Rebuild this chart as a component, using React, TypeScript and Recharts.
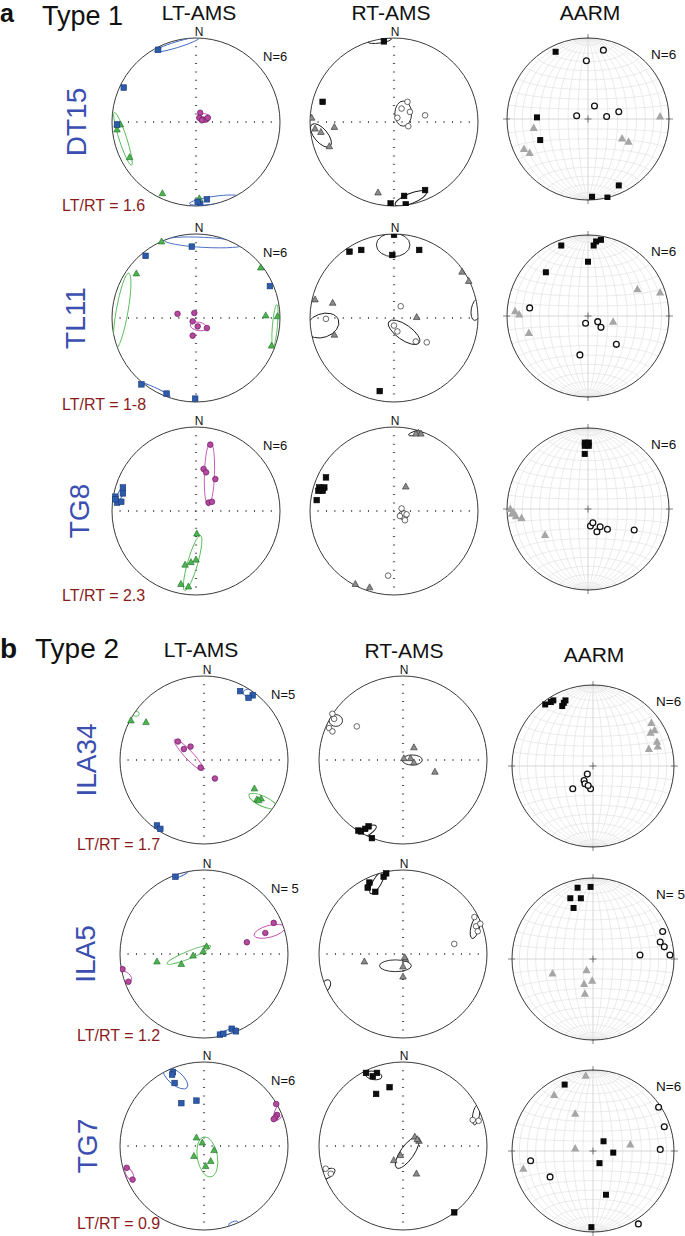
import React from 'react';
import { ScatterChart, Scatter, XAxis, YAxis, ReferenceLine, ReferenceDot, Customized } from 'recharts';

type Pair = [number, number];
type Ell = [number, number, number, number, number]; // x, y, rx, ry, angle (deg)

// ---- data: projected axes, unit = net radius (x east, y north) ----
// k1 = max axis (squares), k2 = int (triangles), k3 = min (circles), e* = confidence ellipses
const dt15LtK1: Pair[] = [[-0.45, 0.86], [-0.86, 0.41], [-0.94, -0.03], [0.05, -0.98], [0.13, -0.92], [0.02, -0.95]];
const dt15LtK2: Pair[] = [[-0.94, -0.03], [-0.9, -0.03], [-0.94, -0.09], [-0.79, -0.42], [-0.4, -0.85], [0.04, -0.91]];
const dt15LtK3: Pair[] = [[0.05, 0.11], [0.04, 0.05], [0.08, 0.03], [0.12, 0.03], [0.14, 0.05], [0.07, 0.02]];
const dt15LtE1: Ell[] = [[-0.23, 0.92, 0.28, 0.035, 17], [0.22, -0.93, 0.3, 0.045, 8]];
const dt15LtE2: Ell[] = [[-0.87, -0.2, 0.33, 0.045, -72]];
const dt15LtE3: Ell[] = [[0.09, 0.05, 0.08, 0.05, 0]];

const dt15RtK1: Pair[] = [[-0.12, 0.96], [-0.85, 0.24], [0.37, -0.81], [0.12, -0.88], [-0.04, -0.97], [0.14, -0.98]];
const dt15RtK2: Pair[] = [[-0.98, 0.05], [-0.94, -0.08], [-0.87, -0.12], [-0.71, -0.06], [-0.77, -0.29], [-0.19, -0.84]];
const dt15RtK3: Pair[] = [[0.16, 0.24], [0.19, 0.12], [0.04, 0.05], [0.37, 0.08], [0.17, -0.05], [0.09, 0.16]];
const dt15RtE1: Ell[] = [[-0.17, 0.97, 0.14, 0.03, 8], [0.2, -0.91, 0.2, 0.06, 22]];
const dt15RtE2: Ell[] = [[-0.87, -0.16, 0.17, 0.08, -50]];
const dt15RtE3: Ell[] = [[0.11, 0.1, 0.15, 0.1, 90]];

const dt15ArK1: Pair[] = [[-0.4, 0.83], [-0.63, 0.02], [-0.59, -0.26], [0.38, -0.82], [0.05, -0.96], [0.24, -0.97]];
const dt15ArK2: Pair[] = [[0.89, 0.03], [-0.67, -0.11], [-0.79, -0.37], [-0.72, -0.42], [0.42, -0.24], [0.5, -0.28]];
const dt15ArK3: Pair[] = [[0.19, 0.85], [-0.02, 0.72], [0.08, 0.16], [-0.14, 0.04], [0.23, 0.03], [0.38, 0.09]];

const tl11LtK1: Pair[] = [[-0.05, 0.85], [-0.6, 0.74], [0.88, 0.38], [-0.65, -0.79], [-0.35, -0.9], [-0.01, -0.96]];
const tl11LtK2: Pair[] = [[-0.41, 0.91], [-0.71, 0.53], [0.77, 0.6], [0.83, 0.03], [0.97, 0.02], [0.9, -0.33]];
const tl11LtK3: Pair[] = [[-0.22, 0.05], [-0.02, 0.06], [-0.04, -0.04], [0.02, -0.1], [0.13, -0.12], [-0.04, -0.21]];
const tl11LtE1: Ell[] = [[0.1, 0.9, 0.48, 0.06, -3], [-0.49, -0.86, 0.2, 0.03, -25]];
const tl11LtE2: Ell[] = [[-0.88, 0.08, 0.46, 0.07, 80], [0.94, -0.09, 0.25, 0.03, 85]];
const tl11LtE3: Ell[] = [[0.03, -0.1, 0.1, 0.05, -10]];

const tl11RtK1: Pair[] = [[0, 0.99], [-0.53, 0.79], [-0.39, 0.81], [-0.02, 0.75], [0.3, 0.81], [-0.17, -0.87]];
const tl11RtK2: Pair[] = [[0.81, 0.55], [0.89, 0.44], [-0.94, 0.22], [-0.73, 0.18], [0.27, 0.01], [-0.71, -0.2]];
const tl11RtK3: Pair[] = [[-0.81, -0.01], [0.08, 0.14], [0, -0.09], [0.04, -0.16], [0.26, -0.28], [0.39, -0.29]];
const tl11RtE1: Ell[] = [[-0.01, 0.87, 0.2, 0.14, 0]];
const tl11RtE2: Ell[] = [[0.98, 0.1, 0.13, 0.06, 80]];
const tl11RtE3: Ell[] = [[-0.85, -0.09, 0.2, 0.14, 20], [0.12, -0.17, 0.22, 0.09, -35]];

const tl11ArK1: Pair[] = [[0.16, 0.94], [0.1, 0.92], [0.07, 0.87], [-0.33, 0.87], [0, 0.67], [-0.52, 0.54]];
const tl11ArK2: Pair[] = [[0.61, 0.33], [0.89, 0.29], [-0.9, 0.06], [-0.85, 0.02], [-0.73, -0.21], [0.31, -0.07]];
const tl11ArK3: Pair[] = [[-0.72, 0.1], [-0.03, -0.09], [0.12, -0.07], [0.16, -0.14], [0.35, -0.35], [-0.1, -0.48]];

const tg8LtK1: Pair[] = [[-0.87, 0.28], [-0.87, 0.21], [-0.96, 0.17], [-0.94, 0.1], [-0.89, 0.11], [-0.96, 0.14]];
const tg8LtK2: Pair[] = [[0.01, -0.27], [0, -0.58], [-0.06, -0.61], [-0.13, -0.64], [-0.18, -0.87], [-0.09, -0.9]];
const tg8LtK3: Pair[] = [[0.17, 0.79], [0.09, 0.5], [0.12, 0.46], [0.23, 0.38], [0.15, 0.1], [0.19, 0.11]];
const tg8LtE1: Ell[] = [[-0.9, 0.2, 0.1, 0.03, 60]];
const tg8LtE2: Ell[] = [[-0.04, -0.62, 0.34, 0.06, 74]];
const tg8LtE3: Ell[] = [[0.16, 0.44, 0.38, 0.06, 88]];

const tg8RtK1: Pair[] = [[-0.81, 0.4], [-0.89, 0.28], [-0.83, 0.28], [-0.85, 0.24], [-0.92, 0.13], [-0.9, 0.24]];
const tg8RtK2: Pair[] = [[0.14, 0.29], [0.29, 0.93], [0.32, 0.92], [0.26, 0.92], [-0.46, -0.87], [-0.29, -0.91]];
const tg8RtK3: Pair[] = [[0.09, 0.03], [0.12, -0.03], [0.07, -0.06], [0.15, -0.04], [0.13, -0.11], [-0.07, -0.77]];
const tg8RtE1: Ell[] = [[-0.86, 0.27, 0.06, 0.04, 0]];
const tg8RtE2: Ell[] = [[0.27, 0.93, 0.1, 0.025, 15]];
const tg8RtE3: Ell[] = [[0.11, -0.05, 0.06, 0.05, 0]];

const tg8ArK1: Pair[] = [[-0.04, 0.82], [0.01, 0.82], [-0.04, 0.78], [0.01, 0.78], [-0.01, 0.8], [-0.04, 0.68]];
const tg8ArK2: Pair[] = [[-0.96, 0], [-0.92, -0.04], [-0.89, -0.09], [-0.82, -0.11], [-0.94, -0.06], [-0.53, -0.32]];
const tg8ArK3: Pair[] = [[0.03, -0.21], [0.06, -0.17], [0.11, -0.28], [0.15, -0.22], [0.24, -0.25], [0.57, -0.26]];

const ila34LtK1: Pair[] = [[0.43, 0.82], [0.58, 0.77], [0.53, 0.74], [-0.56, -0.78], [-0.52, -0.82]];
const ila34LtK2: Pair[] = [[-0.87, 0.47], [-0.69, 0.45], [0.6, -0.34], [0.63, -0.47], [0.68, -0.46], [0.65, -0.48]];
const ila34LtK3: Pair[] = [[-0.31, 0.22], [-0.16, 0.16], [-0.24, 0.13], [-0.04, -0.09], [0.13, -0.22]];
const ila34LtE1: Ell[] = [[0.52, 0.8, 0.05, 0.04, 0]];
const ila34LtE2: Ell[] = [[-0.81, 0.55, 0.04, 0.03, 0], [0.7, -0.49, 0.18, 0.06, -25]];
const ila34LtE3: Ell[] = [[-0.18, 0.06, 0.25, 0.05, -47]];

const ila34RtK1: Pair[] = [[-0.53, -0.84], [-0.5, -0.85], [-0.45, -0.82], [-0.41, -0.79], [-0.37, -0.93]];
const ila34RtK2: Pair[] = [[0.13, 0.15], [0.01, 0.02], [0.09, 0.02], [0.13, -0.03], [0.38, -0.14]];
const ila34RtK3: Pair[] = [[-0.84, 0.55], [-0.82, 0.49], [-0.88, 0.38], [-0.84, 0.34], [-0.55, 0.4]];
const ila34RtE1: Ell[] = [[-0.45, -0.86, 0.15, 0.05, 30]];
const ila34RtE2: Ell[] = [[0.11, 0, 0.12, 0.06, 0]];
const ila34RtE3: Ell[] = [[-0.8, 0.47, 0.08, 0.07, 0]];

const ila34ArK1: Pair[] = [[-0.59, 0.76], [-0.52, 0.79], [-0.49, 0.81], [-0.34, 0.81], [-0.36, 0.78], [-0.38, 0.74]];
const ila34ArK2: Pair[] = [[0.72, 0.53], [0.71, 0.41], [0.76, 0.44], [0.79, 0.3], [0.69, 0.21], [0.8, 0.24]];
const ila34ArK3: Pair[] = [[-0.07, -0.1], [-0.11, -0.18], [-0.1, -0.22], [-0.25, -0.28], [-0.03, -0.28], [-0.06, -0.24]];

const ila5LtK1: Pair[] = [[-0.34, 0.92], [0.19, -0.96], [0.33, -0.89], [0.38, -0.92], [0.23, -0.95]];
const ila5LtK2: Pair[] = [[-0.56, -0.09], [-0.27, -0.12], [-0.13, -0.02], [-0.01, 0.03], [0.03, 0.09]];
const ila5LtK3: Pair[] = [[0.83, 0.37], [0.73, 0.25], [0.51, 0.14], [-0.97, -0.18], [-0.9, -0.33]];
const ila5LtE1: Ell[] = [[-0.27, 0.95, 0.09, 0.02, 25], [0.28, -0.93, 0.13, 0.025, 20]];
const ila5LtE2: Ell[] = [[-0.18, -0.01, 0.28, 0.045, 22]];
const ila5LtE3: Ell[] = [[0.78, 0.27, 0.19, 0.07, 15], [-0.93, -0.27, 0.08, 0.05, -40]];

const ila5RtK1: Pair[] = [[-0.2, 0.96], [-0.23, 0.92], [-0.4, 0.85], [-0.42, 0.79], [-0.33, 0.74]];
const ila5RtK2: Pair[] = [[-0.46, -0.09], [0.03, -0.06], [0, -0.15], [0, -0.27], [0.02, -0.04]];
const ila5RtK3: Pair[] = [[0.61, 0.12], [0.85, 0.44], [0.87, 0.33], [0.92, 0.36], [0.89, 0.27]];
const ila5RtE1: Ell[] = [[-0.31, 0.85, 0.15, 0.05, 60]];
const ila5RtE2: Ell[] = [[-0.09, -0.14, 0.19, 0.07, 0]];
const ila5RtE3: Ell[] = [[0.86, 0.32, 0.14, 0.05, 75], [-0.92, -0.38, 0.08, 0.05, 60]];

const ila5ArK1: Pair[] = [[-0.19, 0.88], [-0.03, 0.89], [-0.28, 0.75], [-0.15, 0.75], [-0.24, 0.63]];
const ila5ArK2: Pair[] = [[-0.5, -0.18], [-0.08, -0.14], [-0.01, -0.27], [-0.11, -0.31], [-0.1, -0.43]];
const ila5ArK3: Pair[] = [[0.86, 0.34], [0.83, 0.21], [0.88, 0.15], [0.95, 0.05], [0.58, 0.05]];

const tg7LtK1: Pair[] = [[-0.37, 0.88], [-0.38, 0.85], [-0.35, 0.75], [-0.27, 0.51], [-0.09, 0.54]];
const tg7LtK2: Pair[] = [[-0.09, 0.1], [0.12, -0.05], [-0.12, -0.12], [0.02, -0.24], [-0.02, 0.04], [0.08, -0.18]];
const tg7LtK3: Pair[] = [[0.86, 0.5], [0.87, 0.37], [0.85, 0.34], [0.83, 0.32], [-0.92, -0.26], [-0.85, -0.4]];
const tg7LtE1: Ell[] = [[-0.34, 0.81, 0.18, 0.08, -40], [0.35, -0.93, 0.06, 0.03, 20]];
const tg7LtE2: Ell[] = [[0.04, -0.13, 0.24, 0.12, 100]];
const tg7LtE3: Ell[] = [[0.89, 0.4, 0.1, 0.05, 70], [-0.89, -0.33, 0.08, 0.04, -60]];

const tg7RtK1: Pair[] = [[-0.44, 0.87], [-0.31, 0.87], [-0.36, 0.83], [-0.16, 0.7], [-0.32, 0.62], [0.61, -0.79]];
const tg7RtK2: Pair[] = [[0.14, 0.11], [0.19, 0.06], [-0.03, -0.11], [-0.11, -0.17], [0.16, -0.33], [0.17, 0.08]];
const tg7RtK3: Pair[] = [[0.83, 0.31], [0.9, 0.3], [-0.92, -0.27], [-0.86, -0.33]];
const tg7RtE1: Ell[] = [[-0.35, 0.84, 0.1, 0.05, -10]];
const tg7RtE2: Ell[] = [[0.05, -0.08, 0.22, 0.08, 55]];
const tg7RtE3: Ell[] = [[0.87, 0.37, 0.12, 0.04, 80], [-0.9, -0.33, 0.1, 0.05, 30]];

const tg7ArK1: Pair[] = [[-0.35, 0.82], [0.13, 0.12], [0.25, -0.02], [0.08, -0.15], [0.16, -0.54], [-0.02, -0.94]];
const tg7ArK2: Pair[] = [[-0.09, 0.93], [-0.48, 0.69], [-0.22, 0.46], [-0.22, 0.03], [0.46, 0.08], [-0.86, -0.22]];
const tg7ArK3: Pair[] = [[0.81, 0.54], [0.88, 0.3], [0.83, 0.02], [-0.77, -0.12], [-0.53, -0.32], [0.56, -0.9]];

// ---- labels ----
const sampleNames = ['DT15', 'TL11', 'TG8', 'ILA34', 'ILA5', 'TG7'];
const ratioLabels = ['LT/RT = 1.6', 'LT/RT = 1-8', 'LT/RT = 2.3', 'LT/RT = 1.7', 'LT/RT = 1.2', 'LT/RT = 0.9'];
const nLtLabels = ['N=6', 'N=6', 'N=6', 'N=5', 'N= 5', 'N=6'];
const nArLabels = ['N=6', 'N=6', 'N=6', 'N=6', 'N= 5', 'N=6'];
const columnTitles = ['LT-AMS', 'RT-AMS', 'AARM'];

// ---- layout ----
const FONT = '"Liberation Sans", Arial, Helvetica, sans-serif';
const PAD = 8;
const R_AMS = 84;
const R_AR = 81;
const COL_X = [
  [196, 394, 588],
  [204, 403, 593],
];
const ROW_Y = [122, 318, 511, 760, 954, 1146];
const AR_Y = [119, 316, 509, 766, 959, 1151];
const LABEL_X = [76, 75, 79, 86, 85, 87];
const RATIO_POS: Pair[] = [[62, 211], [62, 410], [62, 601], [77, 850], [77, 1041], [77, 1229]];

const toPts = (a: Pair[]) => a.map(([x, y]) => ({ x, y }));
const toElls = (a: Ell[]) => a.map(([x, y, rx, ry, angle]) => ({ x, y, rx, ry, angle }));

type Mode = 'lt' | 'rt' | 'ar';

const MARK = {
  lt: { sq: ['#2d5aa9', '#173a7a'], tri: ['#4db34f', '#1d6d25'], dot: ['#b5489f', '#6b1d5d'], ell: ['#3f67bf', '#55bb55', '#c24fb2'] },
  rt: { sq: ['#0d0d0d', '#000'], tri: ['#8c8c8c', '#2a2a2a'], dot: ['#fff', '#2a2a2a'], ell: ['#1a1a1a', '#1a1a1a', '#1a1a1a'] },
  ar: { sq: ['#0a0a0a', 'none'], tri: ['#a6a6a6', 'none'], dot: ['#fff', '#111'], ell: ['#111', '#111', '#111'] },
};

const squareShape = (fill: string, stroke: string, s: number) => (p: any) => (
  <rect x={p.cx - s / 2} y={p.cy - s / 2} width={s} height={s} fill={fill} stroke={stroke} strokeWidth={0.6} />
);
const triShape = (fill: string, stroke: string, h: number) => (p: any) => (
  <polygon
    points={`${p.cx},${p.cy - h * 0.6} ${p.cx + h * 0.55},${p.cy + h * 0.4} ${p.cx - h * 0.55},${p.cy + h * 0.4}`}
    fill={fill}
    stroke={stroke}
    strokeWidth={0.6}
  />
);
const dotShape = (fill: string, stroke: string, r: number, sw: number) => (p: any) => (
  <circle cx={p.cx} cy={p.cy} r={r} fill={fill} stroke={stroke} strokeWidth={sw} />
);
const ellShape = (color: string, r: number, clip: string) => (p: any) => {
  const d = p.payload;
  return (
    <g clipPath={`url(#${clip})`}>
      <ellipse
        cx={p.cx}
        cy={p.cy}
        rx={d.rx * r}
        ry={d.ry * r}
        transform={`rotate(${-d.angle} ${p.cx} ${p.cy})`}
        fill="none"
        stroke={color}
        strokeWidth={0.9}
      />
    </g>
  );
};

// equal-area (Schmidt) graticule, clip path, centre/edge ticks
function Frame({ r, c, mode, id }: { r: number; c: number; mode: Mode; id: string }) {
  const paths: string[] = [];
  if (mode === 'ar') {
    const rad = Math.PI / 180;
    const proj = (lon: number, lat: number) => {
      const k = Math.sqrt(1 + Math.cos(lat * rad) * Math.cos(lon * rad));
      const x = (Math.cos(lat * rad) * Math.sin(lon * rad)) / k;
      const y = Math.sin(lat * rad) / k;
      return `${(c + x * r).toFixed(2)},${(c - y * r).toFixed(2)}`;
    };
    for (let lon = -80; lon <= 80; lon += 10) {
      const pts: string[] = [];
      for (let lat = -90; lat <= 90; lat += 2) pts.push(proj(lon, lat));
      paths.push('M' + pts.join('L'));
    }
    for (let lat = -80; lat <= 80; lat += 10) {
      const pts: string[] = [];
      for (let lon = -90; lon <= 90; lon += 2) pts.push(proj(lon, lat));
      paths.push('M' + pts.join('L'));
    }
  }
  return (
    <g>
      <defs>
        <clipPath id={id}>
          <circle cx={c} cy={c} r={r} />
        </clipPath>
      </defs>
      {mode === 'ar' && (
        <g>
          {paths.map((d, i) => (
            <path key={i} d={d} fill="none" stroke="#dcdcdc" strokeWidth={0.6} />
          ))}
          <line x1={c} y1={c - r} x2={c} y2={c + r} stroke="#d4d4d4" strokeWidth={0.6} />
          <line x1={c - r} y1={c} x2={c + r} y2={c} stroke="#d4d4d4" strokeWidth={0.6} />
          <line x1={c - 3.5} y1={c} x2={c + 3.5} y2={c} stroke="#555" strokeWidth={0.8} />
          <line x1={c} y1={c - 3.5} x2={c} y2={c + 3.5} stroke="#555" strokeWidth={0.8} />
          <line x1={c} y1={c - r - 4} x2={c} y2={c - r + 1} stroke="#666" strokeWidth={0.8} />
          <line x1={c} y1={c + r - 1} x2={c} y2={c + r + 4} stroke="#666" strokeWidth={0.8} />
          <line x1={c - r - 4} y1={c} x2={c - r + 3} y2={c} stroke="#666" strokeWidth={0.8} />
          <line x1={c + r - 3} y1={c} x2={c + r + 4} y2={c} stroke="#666" strokeWidth={0.8} />
        </g>
      )}
    </g>
  );
}

interface NetProps {
  id: string;
  mode: Mode;
  cx: number;
  cy: number;
  k1: Pair[];
  k2: Pair[];
  k3: Pair[];
  e1?: Ell[];
  e2?: Ell[];
  e3?: Ell[];
}

const Net: React.FC<NetProps> = ({ id, mode, cx, cy, k1, k2, k3, e1 = [], e2 = [], e3 = [] }) => {
  const r = mode === 'ar' ? R_AR : R_AMS;
  const size = 2 * r + 2 * PAD;
  const m = MARK[mode];
  const big = mode === 'ar';
  const tick = 0.1 * r;
  return (
    <div style={{ position: 'absolute', left: cx - r - PAD, top: cy - r - PAD }}>
      <ScatterChart width={size} height={size} margin={{ top: PAD, right: PAD, bottom: PAD, left: PAD }}>
        <XAxis type="number" dataKey="x" domain={[-1, 1]} hide allowDataOverflow />
        <YAxis type="number" dataKey="y" domain={[-1, 1]} hide allowDataOverflow />
        <Customized component={<Frame r={r} c={PAD + r} mode={mode} id={id} />} />
        {mode !== 'ar' && (
          <ReferenceLine
            segment={[{ x: 0, y: -0.91 }, { x: 0, y: 0.91 }]}
            stroke="#555"
            strokeWidth={2.2}
            strokeDasharray={`1 ${tick - 1}`}
          />
        )}
        {mode !== 'ar' && (
          <ReferenceLine
            segment={[{ x: -0.91, y: 0 }, { x: 0.91, y: 0 }]}
            stroke="#555"
            strokeWidth={2.2}
            strokeDasharray={`1 ${tick - 1}`}
          />
        )}
        <ReferenceDot x={0} y={0} r={r} fill="none" stroke="#3a3a3a" strokeWidth={1} />
        <Scatter data={toElls(e1)} shape={ellShape(m.ell[0], r, id)} isAnimationActive={false} />
        <Scatter data={toElls(e2)} shape={ellShape(m.ell[1], r, id)} isAnimationActive={false} />
        <Scatter data={toElls(e3)} shape={ellShape(m.ell[2], r, id)} isAnimationActive={false} />
        <Scatter data={toPts(k3)} shape={dotShape(m.dot[0], m.dot[1], big ? 2.9 : 2.8, big ? 1.3 : 0.7)} isAnimationActive={false} />
        <Scatter data={toPts(k2)} shape={triShape(m.tri[0], m.tri[1], big ? 7.5 : 6)} isAnimationActive={false} />
        <Scatter data={toPts(k1)} shape={squareShape(m.sq[0], m.sq[1], big ? 6 : 5.6)} isAnimationActive={false} />
      </ScatterChart>
    </div>
  );
};

const NETS: NetProps[][] = [
  [
    { id: 'c0', mode: 'lt', cx: 0, cy: 0, k1: dt15LtK1, k2: dt15LtK2, k3: dt15LtK3, e1: dt15LtE1, e2: dt15LtE2, e3: dt15LtE3 },
    { id: 'c1', mode: 'rt', cx: 0, cy: 0, k1: dt15RtK1, k2: dt15RtK2, k3: dt15RtK3, e1: dt15RtE1, e2: dt15RtE2, e3: dt15RtE3 },
    { id: 'c2', mode: 'ar', cx: 0, cy: 0, k1: dt15ArK1, k2: dt15ArK2, k3: dt15ArK3 },
  ],
  [
    { id: 'c3', mode: 'lt', cx: 0, cy: 0, k1: tl11LtK1, k2: tl11LtK2, k3: tl11LtK3, e1: tl11LtE1, e2: tl11LtE2, e3: tl11LtE3 },
    { id: 'c4', mode: 'rt', cx: 0, cy: 0, k1: tl11RtK1, k2: tl11RtK2, k3: tl11RtK3, e1: tl11RtE1, e2: tl11RtE2, e3: tl11RtE3 },
    { id: 'c5', mode: 'ar', cx: 0, cy: 0, k1: tl11ArK1, k2: tl11ArK2, k3: tl11ArK3 },
  ],
  [
    { id: 'c6', mode: 'lt', cx: 0, cy: 0, k1: tg8LtK1, k2: tg8LtK2, k3: tg8LtK3, e1: tg8LtE1, e2: tg8LtE2, e3: tg8LtE3 },
    { id: 'c7', mode: 'rt', cx: 0, cy: 0, k1: tg8RtK1, k2: tg8RtK2, k3: tg8RtK3, e1: tg8RtE1, e2: tg8RtE2, e3: tg8RtE3 },
    { id: 'c8', mode: 'ar', cx: 0, cy: 0, k1: tg8ArK1, k2: tg8ArK2, k3: tg8ArK3 },
  ],
  [
    { id: 'c9', mode: 'lt', cx: 0, cy: 0, k1: ila34LtK1, k2: ila34LtK2, k3: ila34LtK3, e1: ila34LtE1, e2: ila34LtE2, e3: ila34LtE3 },
    { id: 'c10', mode: 'rt', cx: 0, cy: 0, k1: ila34RtK1, k2: ila34RtK2, k3: ila34RtK3, e1: ila34RtE1, e2: ila34RtE2, e3: ila34RtE3 },
    { id: 'c11', mode: 'ar', cx: 0, cy: 0, k1: ila34ArK1, k2: ila34ArK2, k3: ila34ArK3 },
  ],
  [
    { id: 'c12', mode: 'lt', cx: 0, cy: 0, k1: ila5LtK1, k2: ila5LtK2, k3: ila5LtK3, e1: ila5LtE1, e2: ila5LtE2, e3: ila5LtE3 },
    { id: 'c13', mode: 'rt', cx: 0, cy: 0, k1: ila5RtK1, k2: ila5RtK2, k3: ila5RtK3, e1: ila5RtE1, e2: ila5RtE2, e3: ila5RtE3 },
    { id: 'c14', mode: 'ar', cx: 0, cy: 0, k1: ila5ArK1, k2: ila5ArK2, k3: ila5ArK3 },
  ],
  [
    { id: 'c15', mode: 'lt', cx: 0, cy: 0, k1: tg7LtK1, k2: tg7LtK2, k3: tg7LtK3, e1: tg7LtE1, e2: tg7LtE2, e3: tg7LtE3 },
    { id: 'c16', mode: 'rt', cx: 0, cy: 0, k1: tg7RtK1, k2: tg7RtK2, k3: tg7RtK3, e1: tg7RtE1, e2: tg7RtE2, e3: tg7RtE3 },
    { id: 'c17', mode: 'ar', cx: 0, cy: 0, k1: tg7ArK1, k2: tg7ArK2, k3: tg7ArK3 },
  ],
];

export default function App() {
  return (
    <div style={{ position: 'absolute', left: 0, top: 0, width: 685, height: 1236, background: '#fff', fontFamily: FONT, overflow: 'hidden' }}>
      {NETS.map((row, ri) =>
        row.map((n, ci) => {
          const sec = ri < 3 ? 0 : 1;
          return <Net key={n.id} {...n} cx={COL_X[sec][ci]} cy={ci === 2 ? AR_Y[ri] : ROW_Y[ri]} />;
        })
      )}
      <svg width={685} height={1236} style={{ position: 'absolute', left: 0, top: 0, pointerEvents: 'none' }} fontFamily={FONT}>
        {/* section titles */}
        <text x={0} y={22} fontSize={25} fontWeight="bold" fill="#111">a</text>
        <text x={42} y={25} fontSize={27} fill="#111">Type 1</text>
        <text x={0} y={658} fontSize={28} fontWeight="bold" fill="#111">b</text>
        <text x={35} y={658} fontSize={28} fill="#111">Type 2</text>
        {columnTitles.map((t, i) => (
          <text key={'h1' + i} x={[199, 391, 590][i]} y={20} fontSize={21} textAnchor="middle" fill="#111">{t}</text>
        ))}
        {columnTitles.map((t, i) => (
          <text key={'h2' + i} x={[201, 404, 594][i]} y={[657, 658, 662][i]} fontSize={21} textAnchor="middle" fill="#111">{t}</text>
        ))}
        {sampleNames.map((name, ri) => {
          const sec = ri < 3 ? 0 : 1;
          const cxL = COL_X[sec][0];
          const cxR = COL_X[sec][1];
          const cxA = COL_X[sec][2];
          const cy = ROW_Y[ri];
          const cyA = AR_Y[ri];
          return (
            <g key={name}>
              <text
                transform={`translate(${LABEL_X[ri]} ${cy}) rotate(-90)`}
                x={0}
                y={0}
                dy="0.35em"
                fontSize={28}
                textAnchor="middle"
                fill="#3a4fb0"
              >
                {name}
              </text>
              <text x={RATIO_POS[ri][0]} y={RATIO_POS[ri][1]} fontSize={16} fill="#8b1c1c">{ratioLabels[ri]}</text>
              <text x={cxL + 3} y={cy - R_AMS - 2} fontSize={12} textAnchor="middle" fill="#111">N</text>
              <text x={cxR + 1} y={cy - R_AMS - 2} fontSize={12} textAnchor="middle" fill="#111">N</text>
              <text x={cxL + 67} y={cy - 61} fontSize={13} fill="#111">{nLtLabels[ri]}</text>
              <text x={cxA + 63} y={cyA - 60} fontSize={13.5} fill="#111">{nArLabels[ri]}</text>
            </g>
          );
        })}
      </svg>
    </div>
  );
}
